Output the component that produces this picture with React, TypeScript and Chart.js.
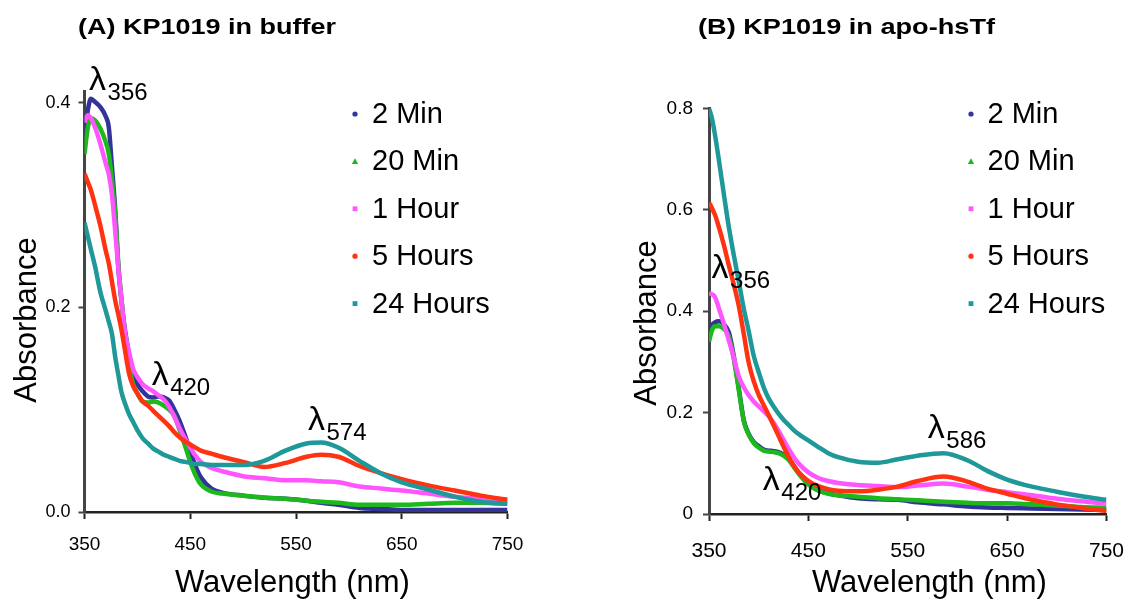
import React, { useEffect, useRef } from "react";
import { Chart, registerables } from "chart.js";

Chart.register(...registerables);

const FONT = '"Liberation Sans", Arial, Helvetica, sans-serif';

// ---------- shared ----------
const seriesNames = ["2 Min", "20 Min", "1 Hour", "5 Hours", "24 Hours"];
const seriesColors = ["#333399", "#1CB81C", "#FF55FF", "#FF3311", "#1E9898"];
const markerShapes = ["circle", "triangle", "rect", "circle", "rect"];
const xTicks = [350, 450, 550, 650, 750];

// ---------- panel A : KP1019 in buffer ----------
const wavelengthA = [
  350, 353, 356, 360, 365, 370, 373, 376, 379, 382,
  385, 388, 392, 396, 400, 405, 410, 415, 420, 425,
  430, 435, 440, 445, 450, 455, 460, 470, 480, 500,
  520, 540, 560, 574, 590, 610, 630, 650, 675, 700,
  725, 750,
];
const bufferMin2 = [
  0.370, 0.392, 0.404, 0.401, 0.396, 0.387, 0.376, 0.337, 0.296, 0.239,
  0.206, 0.180, 0.155, 0.135, 0.125, 0.118, 0.113, 0.112, 0.113, 0.112,
  0.109, 0.100, 0.089, 0.075, 0.060, 0.045, 0.034, 0.023, 0.019, 0.016,
  0.014, 0.013, 0.011, 0.009, 0.007, 0.004, 0.003, 0.002, 0.002, 0.002,
  0.002, 0.002,
];
const bufferMin20 = [
  0.350, 0.375, 0.385, 0.383, 0.375, 0.362, 0.350, 0.325, 0.292, 0.243,
  0.208, 0.175, 0.145, 0.125, 0.116, 0.108, 0.107, 0.108, 0.107, 0.104,
  0.100, 0.094, 0.080, 0.065, 0.049, 0.036, 0.027, 0.020, 0.018, 0.016,
  0.014, 0.013, 0.011, 0.010, 0.009, 0.007, 0.007, 0.007, 0.008, 0.009,
  0.009, 0.008,
];
const bufferHour1 = [
  0.381, 0.388, 0.385, 0.376, 0.360, 0.341, 0.330, 0.310, 0.275, 0.238,
  0.207, 0.178, 0.157, 0.140, 0.132, 0.125, 0.121, 0.118, 0.114, 0.110,
  0.103, 0.093, 0.082, 0.072, 0.063, 0.055, 0.049, 0.043, 0.040, 0.035,
  0.033, 0.031, 0.031, 0.030, 0.029, 0.025, 0.023, 0.021, 0.018, 0.015,
  0.013, 0.012,
];
const bufferHour5 = [
  0.331, 0.323, 0.315, 0.300, 0.280, 0.256, 0.243, 0.225, 0.207, 0.193,
  0.178, 0.160, 0.136, 0.123, 0.116, 0.108, 0.104, 0.099, 0.094, 0.089,
  0.084, 0.078, 0.073, 0.069, 0.066, 0.063, 0.060, 0.057, 0.054, 0.049,
  0.044, 0.048, 0.054, 0.056, 0.054, 0.045, 0.038, 0.032, 0.026, 0.021,
  0.016, 0.012,
];
const bufferHour24 = [
  0.283, 0.270, 0.257, 0.240, 0.215, 0.197, 0.186, 0.174, 0.152, 0.134,
  0.117, 0.107, 0.096, 0.088, 0.080, 0.072, 0.067, 0.062, 0.059, 0.056,
  0.054, 0.052, 0.050, 0.049, 0.048, 0.047, 0.047, 0.046, 0.046, 0.046,
  0.050, 0.060, 0.067, 0.068, 0.063, 0.050, 0.038, 0.029, 0.022, 0.015,
  0.010, 0.008,
];
const yTicksA = [0, 0.2, 0.4];
const yTickLabelsA = ["0.0", "0.2", "0.4"];
const peakLabelsA = ["356", "420", "574"];
const peakNmA = [354.3, 413.5, 561.3];
const peakAbsA = [0.4125, 0.124, 0.080];

// ---------- panel B : KP1019 in apo-hsTf ----------
const wavelengthB = [
  350, 353, 356, 360, 365, 370, 375, 380, 385, 390,
  395, 400, 405, 410, 415, 420, 425, 430, 435, 440,
  450, 460, 470, 480, 500, 520, 540, 560, 586, 610,
  630, 650, 675, 700, 725, 750,
];
const tfMin2 = [
  0.350, 0.372, 0.378, 0.380, 0.374, 0.358, 0.311, 0.248, 0.185, 0.158,
  0.142, 0.134, 0.127, 0.125, 0.124, 0.122, 0.117, 0.110, 0.096, 0.082,
  0.060, 0.047, 0.041, 0.037, 0.031, 0.029, 0.028, 0.023, 0.019, 0.015,
  0.013, 0.012, 0.011, 0.010, 0.009, 0.008,
];
const tfMin20 = [
  0.340, 0.362, 0.370, 0.370, 0.365, 0.350, 0.305, 0.244, 0.183, 0.156,
  0.140, 0.131, 0.125, 0.123, 0.122, 0.120, 0.115, 0.107, 0.094, 0.080,
  0.058, 0.046, 0.040, 0.037, 0.034, 0.031, 0.029, 0.027, 0.024, 0.022,
  0.021, 0.021, 0.019, 0.017, 0.014, 0.012,
];
const tfHour1 = [
  0.436, 0.433, 0.428, 0.405, 0.375, 0.342, 0.308, 0.271, 0.250, 0.234,
  0.222, 0.212, 0.203, 0.193, 0.180, 0.164, 0.146, 0.129, 0.113, 0.100,
  0.082, 0.071, 0.065, 0.061, 0.057, 0.055, 0.053, 0.056, 0.060, 0.054,
  0.048, 0.043, 0.037, 0.030, 0.025, 0.020,
];
const tfHour5 = [
  0.614, 0.603, 0.590, 0.565, 0.530, 0.490, 0.452, 0.410, 0.355, 0.298,
  0.262, 0.235, 0.215, 0.195, 0.175, 0.154, 0.133, 0.113, 0.096, 0.083,
  0.065, 0.055, 0.049, 0.046, 0.045, 0.048, 0.054, 0.065, 0.074, 0.064,
  0.050, 0.040, 0.028, 0.019, 0.012, 0.006,
];
const tfHour24 = [
  0.800, 0.780, 0.748, 0.697, 0.630, 0.565, 0.510, 0.458, 0.405, 0.360,
  0.312, 0.280, 0.250, 0.228, 0.212, 0.198, 0.186, 0.176, 0.166, 0.158,
  0.145, 0.132, 0.120, 0.112, 0.103, 0.101, 0.108, 0.115, 0.120, 0.106,
  0.085, 0.068, 0.054, 0.044, 0.035, 0.028,
];
const yTicksB = [0, 0.2, 0.4, 0.6, 0.8];
const yTickLabelsB = ["0", "0.2", "0.4", "0.6", "0.8"];
const peakLabelsB = ["356", "420", "586"];
const peakNmB = [352.6, 404.2, 570.2];
const peakAbsB = [0.466, 0.047, 0.150];

// ---------- layout (canvas-local pixels) ----------
type Panel = {
  key: string;
  left: number;
  width: number;
  plotLeft: number;
  plotRight: number;
  plotTop: number;
  plotBottom: number;
  yMax: number;
  wavelengths: number[];
  series: number[][];
  yTicks: number[];
  yLabels: string[];
  peakLabels: string[];
  peakNm: number[];
  peakAbs: number[];
  title: string;
  titleX: number;
  titleWidth: number;
  xTitleX: number;
  yTitleX: number;
  yTitleY: number;
  legendMarkerX: number;
  legendTextX: number;
  xTickSize: number;
  yTickSize: number;
  xTickPad: number;
  yTickPad: number;
};

const H = 602;

const panelA: Panel = {
  key: "A",
  left: 0,
  width: 570,
  plotLeft: 84.5,
  plotRight: 507.5,
  plotTop: 91.7,
  plotBottom: 512,
  yMax: 0.411,
  wavelengths: wavelengthA,
  series: [bufferMin2, bufferMin20, bufferHour1, bufferHour5, bufferHour24],
  yTicks: yTicksA,
  yLabels: yTickLabelsA,
  peakLabels: peakLabelsA,
  peakNm: peakNmA,
  peakAbs: peakAbsA,
  title: "(A) KP1019 in buffer",
  titleX: 78,
  titleWidth: 258,
  xTitleX: 175,
  yTitleX: 36,
  yTitleY: 320,
  legendMarkerX: 355,
  legendTextX: 372,
  xTickSize: 19,
  yTickSize: 18,
  xTickPad: 14,
  yTickPad: 8,
};

const panelB: Panel = {
  key: "B",
  left: 570,
  width: 572,
  plotLeft: 139,
  plotRight: 552.6,
  plotTop: 108.3,
  plotBottom: 514,
  yMax: 0.8,
  wavelengths: wavelengthB,
  series: [tfMin2, tfMin20, tfHour1, tfHour5, tfHour24],
  yTicks: yTicksB,
  yLabels: yTickLabelsB,
  peakLabels: peakLabelsB,
  peakNm: peakNmB,
  peakAbs: peakAbsB,
  title: "(B) KP1019 in apo-hsTf",
  titleX: 128,
  titleWidth: 297,
  xTitleX: 242,
  yTitleX: 86,
  yTitleY: 323,
  legendMarkerX: 401,
  legendTextX: 417.5,
  xTickSize: 21,
  yTickSize: 19,
  xTickPad: 18,
  yTickPad: 10,
};

function drawMarker(ctx: CanvasRenderingContext2D, shape: string, x: number, y: number, color: string) {
  ctx.fillStyle = color;
  ctx.beginPath();
  if (shape === "circle") {
    ctx.arc(x, y, 2.6, 0, Math.PI * 2);
  } else if (shape === "triangle") {
    ctx.moveTo(x, y - 3.2);
    ctx.lineTo(x + 3.2, y + 2.6);
    ctx.lineTo(x - 3.2, y + 2.6);
    ctx.closePath();
  } else {
    ctx.rect(x - 2.4, y - 2.4, 4.8, 4.8);
  }
  ctx.fill();
}

function overlayPlugin(panel: Panel) {
  return {
    id: "overlay" + panel.key,
    afterDraw(chart: any) {
      const ctx: CanvasRenderingContext2D = chart.ctx;
      const xs = chart.scales.x;
      const ys = chart.scales.y;
      ctx.save();
      ctx.fillStyle = "#000";
      ctx.textAlign = "left";
      ctx.textBaseline = "alphabetic";

      // title
      ctx.font = `bold 22px ${FONT}`;
      const tw = ctx.measureText(panel.title).width;
      ctx.save();
      ctx.translate(panel.titleX, 34);
      ctx.scale(panel.titleWidth / tw, 1);
      ctx.fillText(panel.title, 0, 0);
      ctx.restore();

      // axis titles
      ctx.font = `31px ${FONT}`;
      ctx.fillText("Wavelength (nm)", panel.xTitleX, 592);
      ctx.save();
      ctx.translate(panel.yTitleX, panel.yTitleY);
      ctx.rotate(-Math.PI / 2);
      ctx.textAlign = "center";
      ctx.fillText("Absorbance", 0, 0);
      ctx.restore();

      // legend
      ctx.font = `29px ${FONT}`;
      ctx.textBaseline = "middle";
      seriesNames.forEach((name, i) => {
        const y = 114 + i * 47.4;
        drawMarker(ctx, markerShapes[i], panel.legendMarkerX, y, seriesColors[i]);
        ctx.fillStyle = "#000";
        ctx.fillText(name, panel.legendTextX, y + 1);
      });

      // peak annotations
      ctx.textBaseline = "alphabetic";
      panel.peakLabels.forEach((lab, i) => {
        const x = xs.getPixelForValue(panel.peakNm[i]);
        const y = ys.getPixelForValue(panel.peakAbs[i]);
        ctx.font = `34px ${FONT}`;
        ctx.fillText("\u03bb", x, y);
        ctx.font = `24px ${FONT}`;
        ctx.fillText(lab, x + 18.5, y + 10);
      });
      ctx.restore();
    },
  };
}

function makeChart(canvas: HTMLCanvasElement, panel: Panel) {
  const datasets = panel.series.map((vals, i) => ({
    label: seriesNames[i],
    data: panel.wavelengths.map((w, j) => ({ x: w, y: vals[j] })),
    borderColor: seriesColors[i],
    backgroundColor: seriesColors[i],
    borderWidth: 4.5,
    pointRadius: 0,
    fill: false,
    cubicInterpolationMode: "monotone" as const,
    order: seriesNames.length - 1 - i,
  }));

  return new Chart(canvas, {
    type: "line",
    data: { datasets },
    options: {
      animation: false,
      responsive: false,
      maintainAspectRatio: false,
      events: [],
      layout: {
        padding: {
          left: 0,
          top: panel.plotTop,
          right: panel.width - panel.plotRight,
          bottom: 0,
        },
      },
      scales: {
        x: {
          type: "linear",
          min: 350,
          max: 750,
          afterFit: (s: any) => {
            s.height = H - panel.plotBottom;
          },
          afterBuildTicks: (s: any) => {
            s.ticks = xTicks.map((v) => ({ value: v }));
          },
          ticks: {
            color: "#000",
            font: { family: FONT, size: panel.xTickSize },
            padding: panel.xTickPad,
            maxRotation: 0,
            autoSkip: false,
            callback: (v: any) => String(v),
          },
          grid: {
            drawOnChartArea: false,
            drawTicks: true,
            tickLength: 7,
            tickWidth: 2,
            color: "#222",
          },
          border: { display: true, color: "#222", width: 2.5 },
        },
        y: {
          type: "linear",
          min: 0,
          max: panel.yMax,
          afterFit: (s: any) => {
            s.width = panel.plotLeft;
          },
          afterBuildTicks: (s: any) => {
            s.ticks = panel.yTicks.map((v) => ({ value: v }));
          },
          ticks: {
            color: "#000",
            font: { family: FONT, size: panel.yTickSize },
            padding: panel.yTickPad,
            autoSkip: false,
            callback: (v: any) => {
              const k = panel.yTicks.indexOf(v);
              return k >= 0 ? panel.yLabels[k] : "";
            },
          },
          grid: {
            drawOnChartArea: false,
            drawTicks: true,
            tickLength: 6,
            tickWidth: 2,
            color: "#444",
          },
          border: { display: true, color: "#444", width: 3 },
        },
      },
      plugins: {
        legend: { display: false },
        tooltip: { enabled: false },
        title: { display: false },
      },
    },
    plugins: [overlayPlugin(panel)],
  } as any);
}

function PanelChart({ panel }: { panel: Panel }) {
  const ref = useRef<HTMLCanvasElement | null>(null);
  useEffect(() => {
    if (!ref.current) return;
    const chart = makeChart(ref.current, panel);
    return () => chart.destroy();
  }, [panel]);
  return (
    <canvas
      ref={ref}
      width={panel.width}
      height={H}
      style={{
        position: "absolute",
        left: panel.left,
        top: 0,
        width: panel.width,
        height: H,
      }}
    />
  );
}

export default function App() {
  return (
    <div
      style={{
        position: "fixed",
        left: 0,
        top: 0,
        width: 1142,
        height: H,
        background: "#ffffff",
        overflow: "hidden",
      }}
    >
      <PanelChart panel={panelA} />
      <PanelChart panel={panelB} />
    </div>
  );
}
